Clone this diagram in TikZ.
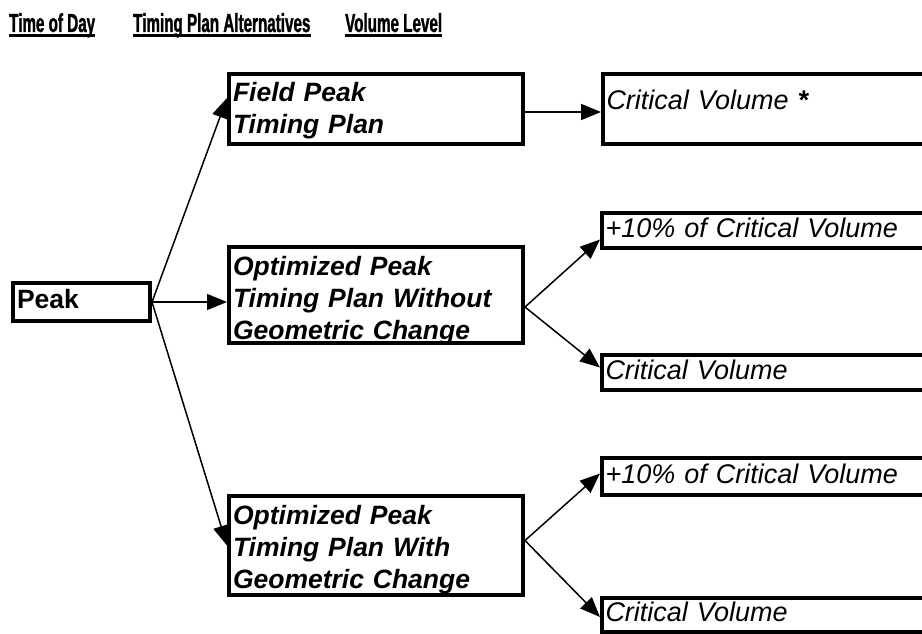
\documentclass[tikz,border=0pt]{standalone}
\usepackage{fontspec}
\setmainfont{Liberation Sans}
\newfontfamily\headfont[FakeStretch=0.585, BoldFeatures={FakeBold=1.2}]{Liberation Sans}
\usetikzlibrary{arrows.meta}
\begin{document}
\begin{tikzpicture}[x=1pt,y=-1pt,
  heading/.style={anchor=base west, inner sep=0pt,
    font=\headfont\fontsize{26}{30}\selectfont\bfseries},
  uline/.style={line width=3pt},
  frame/.style={draw, line width=4pt, anchor=north west, inner ysep=0pt, align=left},
  planbox/.style={frame, inner xsep=4pt, text width=286pt, minimum width=294pt,
    font=\fontsize{26.5}{32}\selectfont\bfseries\itshape},
  volbox/.style={frame, inner xsep=3.5pt, text width=333pt, minimum width=340pt,
    text height=20pt, text depth=7pt,
    font=\fontsize{27}{32}\selectfont\itshape},
  link/.style={line width=1.5pt, -{Triangle[length=20pt,width=16pt]}}
]
\useasboundingbox (0,0) rectangle (922,634);
\clip (0,0) rectangle (922,634);

% column headings
\node[heading] (h1) at (9,32) {Time of Day};
\node[heading] (h2) at (133,32) {Timing Plan Alternatives};
\node[heading] (h3) at (345,32) {Volume Level};
\foreach \h in {h1,h2,h3}
  \draw[uline] ([yshift=-3.5pt]\h.base west) -- ([yshift=-3.5pt]\h.base east);

% time of day
\node[frame, inner xsep=4pt, text width=129pt, minimum height=38pt,
  text height=19pt, text depth=7pt,
  font=\fontsize{26.5}{32}\selectfont\bfseries] (peak) at (11,281) {Peak};

% timing plan alternatives
\node[planbox, minimum height=70pt, text height=25pt, text depth=39pt]
  (field) at (227,72) {Field Peak\\Timing Plan};
\node[planbox, minimum height=96pt, text height=25pt, text depth=65pt]
  (without) at (227,245) {Optimized Peak\\Timing Plan Without\\Geometric Change};
\node[planbox, minimum height=99pt, text height=25pt, text depth=68pt]
  (with) at (227,494) {Optimized Peak\\Timing Plan With\\Geometric Change};

% volume levels
\node[volbox, minimum height=70pt, text height=20pt, text depth=18pt]
  (cva) at (601,72) {Critical Volume {\bfseries*}};
\node[volbox, minimum height=35pt] (pa) at (600,211) {+10\% of Critical Volume};
\node[volbox, minimum height=35pt] (cvb) at (600,353) {Critical Volume};
\node[volbox, minimum height=37pt] (pb) at (600,456) {+10\% of Critical Volume};
\node[volbox, minimum height=34pt] (cvc) at (600,596) {Critical Volume};

% connectors
\draw[link] (peak.east) -- ([yshift=11pt]field.west);
\draw[link] (peak.east) -- (peak.east -| without.west);
\draw[link] (peak.east) -- (with.west);
\draw[link] ([yshift=-3pt]field.east) -- ([yshift=-3pt]cva.west);
\draw[link] ([yshift=-12pt]without.east) -- ([yshift=-9pt]pa.west);
\draw[link] ([yshift=-12pt]without.east) -- ([yshift=5pt]cvb.west);
\draw[link] ([yshift=5pt]with.east) -- ([yshift=3pt]pb.west);
\draw[link] ([yshift=5pt]with.east) -- ([yshift=-2pt]cvc.west);
\end{tikzpicture}
\end{document}
